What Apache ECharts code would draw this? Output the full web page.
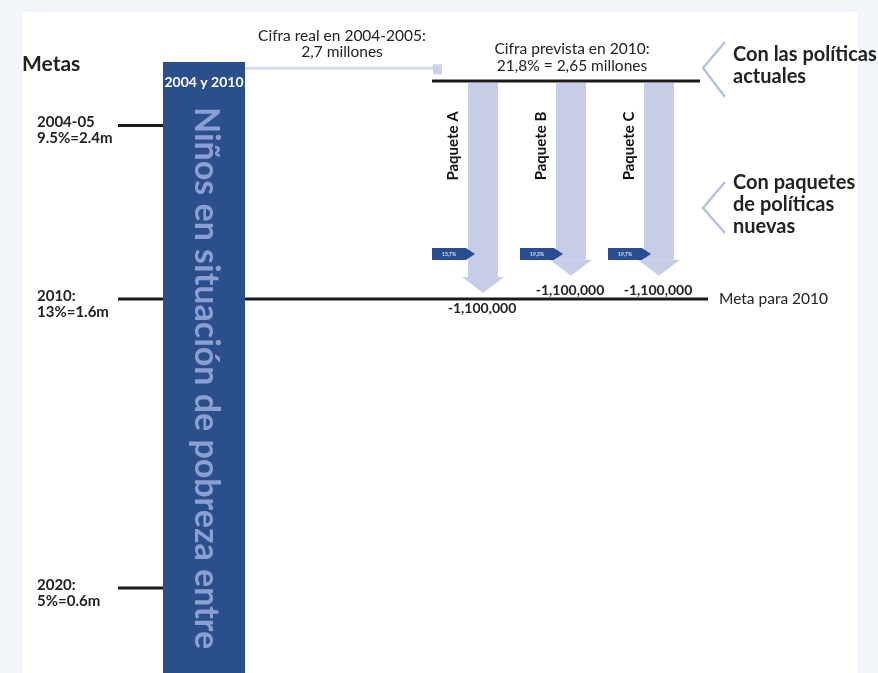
<!DOCTYPE html>
<html><head><meta charset="utf-8">
<style>html,body{margin:0;padding:0;background:#f2f6fb;}#c{width:878px;height:673px;}</style>
<script src="https://cdn.jsdelivr.net/npm/echarts@6/dist/echarts.min.js"></script>
</head><body><div id="c"></div><script>
// ---- data ----
const targetNames = ['2004-05', '2010:', '2020:'];
const targetYears = [2004, 2010, 2020];
const targetTexts = ['9.5%=2.4m', '13%=1.6m', '5%=0.6m'];
const packages = ['Paquete A', 'Paquete B', 'Paquete C'];
const packageStart = [2.65, 2.65, 2.65];      // millions (projected 2010)
const packageEnd = [1.55, 1.64, 1.64];        // arrow tips as drawn
const packageReduction = [-1100000, -1100000, -1100000];
const packageTags = ['15,7%', '19,3%', '19,7%'];
const realValue = 2.7;        // millions, 2004-2005
const projectedValue = 2.65;  // millions, 2010
const projectedPct = '21,8%';

const FONT = 'Lato, "Noto Sans", sans-serif';
const chart = echarts.init(document.getElementById('c'));

function txt(x, y, text, size, weight, color, align, extra) {
  return Object.assign({
    type: 'text', x: x, y: y,
    style: { text: text, font: weight + ' ' + size + 'px ' + FONT, fill: color,
      textAlign: align || 'left', align: align || 'left',
      textVerticalAlign: 'middle', verticalAlign: 'middle' }
  }, extra || {});
}

const option = {
  backgroundColor: '#f2f6fb',
  animation: false,
  grid: [
    { left: 0, top: 0, width: 878, height: 673 },
    { left: 439, top: 0, width: 264, height: 673 }
  ],
  xAxis: [
    { gridIndex: 0, type: 'value', min: 0, max: 1, show: false },
    { gridIndex: 1, type: 'category', data: packages, show: false }
  ],
  yAxis: [
    { gridIndex: 0, type: 'value', min: 1999.654, max: 2022.94, inverse: true, show: false },
    { gridIndex: 0, type: 'value', min: -0.42, max: 3.07, show: false },
    { gridIndex: 1, type: 'value', min: -0.42, max: 3.07, show: false }
  ],
  graphic: [
    { type: 'rect', z: 0, shape: { x: 22, y: 12, width: 836, height: 670 }, style: { fill: '#ffffff' } },
    txt(22, 64, 'Metas', 21, 'bold', '#222', 'left', { z: 11 }),
    { type: 'rect', z: 10, shape: { x: 163, y: 62, width: 82, height: 620 }, style: { fill: '#2b4f8b' } },
    txt(204, 82, '2004 y 2010', 14, 'bold', '#ffffff', 'center', { z: 11 }),
    txt(206, 107, 'Niños en situación de pobreza entre', 34, 'bold', '#8c9fd2', 'left', { z: 11, rotation: -Math.PI / 2 }),
    { type: 'polyline', z: 11, shape: { points: [[725, 42], [703, 68], [725, 97]] }, style: { stroke: '#b7c2e2', lineWidth: 2.5, fill: null } },
    { type: 'polyline', z: 11, shape: { points: [[725, 182], [703, 208], [725, 233]] }, style: { stroke: '#b7c2e2', lineWidth: 2.5, fill: null } },
    txt(733, 55, 'Con las políticas', 20, 'bold', '#222', 'left', { z: 11 }),
    txt(733, 77, 'actuales', 20, 'bold', '#222', 'left', { z: 11 }),
    txt(733, 183, 'Con paquetes', 20, 'bold', '#222', 'left', { z: 11 }),
    txt(733, 205, 'de políticas', 20, 'bold', '#222', 'left', { z: 11 }),
    txt(733, 227, 'nuevas', 20, 'bold', '#222', 'left', { z: 11 })
  ],
  series: [
    { // targets on the year scale
      type: 'custom', xAxisIndex: 0, yAxisIndex: 0, z: 3,
      data: targetYears.map(function (y) { return [0, y]; }),
      renderItem: function (params, api) {
        const i = params.dataIndex;
        const y = api.coord([0, api.value(1)])[1];
        const ch = [
          { type: 'line', shape: { x1: 118, y1: y, x2: i === 1 ? 708 : 163, y2: y }, style: { stroke: '#1a1a1a', lineWidth: 3 } },
          txt(37, y - 3, targetNames[i], 15, 'bold', '#222'),
          txt(37, y + 13, targetTexts[i], 15, 'bold', '#222')
        ];
        if (i === 1) ch.push(txt(719, y, 'Meta para ' + targetYears[i], 15.5, 'normal', '#222'));
        return { type: 'group', children: ch };
      }
    },
    { // real value 2004-2005 connector
      type: 'custom', xAxisIndex: 0, yAxisIndex: 1, z: 3,
      data: [[0, realValue]],
      renderItem: function (params, api) {
        const y = api.coord([0, api.value(1)])[1] - 3;
        return { type: 'group', children: [
          { type: 'line', shape: { x1: 245, y1: y, x2: 438, y2: y }, style: { stroke: '#d6daef', lineWidth: 3 } },
          { type: 'rect', shape: { x: 433, y: y - 4, width: 9, height: 10 }, style: { fill: '#cbd1ea' } },
          txt(342, y - 32, 'Cifra real en 2004-2005:', 15.5, 'normal', '#222', 'center'),
          txt(342, y - 16, String(realValue).replace('.', ',') + ' millones', 15.5, 'normal', '#222', 'center')
        ] };
      }
    },
    { // projected 2010
      type: 'custom', xAxisIndex: 0, yAxisIndex: 1, z: 4,
      data: [[0, projectedValue]],
      renderItem: function (params, api) {
        const y = api.coord([0, api.value(1)])[1];
        return { type: 'group', children: [
          { type: 'line', shape: { x1: 432, y1: y, x2: 700, y2: y }, style: { stroke: '#1a1a1a', lineWidth: 3 } },
          txt(572, y - 32, 'Cifra prevista en 2010:', 15.5, 'normal', '#222', 'center'),
          txt(572, y - 15, projectedPct + ' = ' + String(projectedValue).replace('.', ',') + ' millones', 15.5, 'normal', '#222', 'center')
        ] };
      }
    },
    { // policy package arrows
      type: 'custom', xAxisIndex: 1, yAxisIndex: 2, z: 3,
      data: packages.map(function (p, i) { return [i, packageStart[i], packageEnd[i]]; }),
      renderItem: function (params, api) {
        const i = params.dataIndex;
        const p0 = api.coord([api.value(0), api.value(1)]);
        const p1 = api.coord([api.value(0), api.value(2)]);
        const cx = p0[0], y0 = p0[1] + 2, y1 = p1[1];
        const head = 16;
        const ty = y0 + 171;
        return { type: 'group', children: [
          { type: 'rect', shape: { x: cx - 15, y: y0, width: 30, height: y1 - head - y0 }, style: { fill: '#c7cde7' } },
          { type: 'polygon', shape: { points: [[cx - 21, y1 - head], [cx + 21, y1 - head], [cx, y1]] }, style: { fill: '#c7cde7' } },
          txt(cx - 30, y0 + 63, packages[i], 15, 'bold', '#111', 'center', { rotation: Math.PI / 2 }),
          { type: 'polygon', shape: { points: [[cx - 51, ty - 6], [cx - 17, ty - 6], [cx - 8, ty], [cx - 17, ty + 6], [cx - 51, ty + 6]] }, style: { fill: '#2a4d8f' } },
          txt(cx - 34, ty, packageTags[i], 5, 'bold', '#dfe5f5', 'center'),
          txt(cx - 1, y1 + 15, packageReduction[i].toLocaleString('en-US'), 14, 'bold', '#222', 'center')
        ] };
      }
    }
  ]
};
chart.setOption(option);
</script></body></html>
